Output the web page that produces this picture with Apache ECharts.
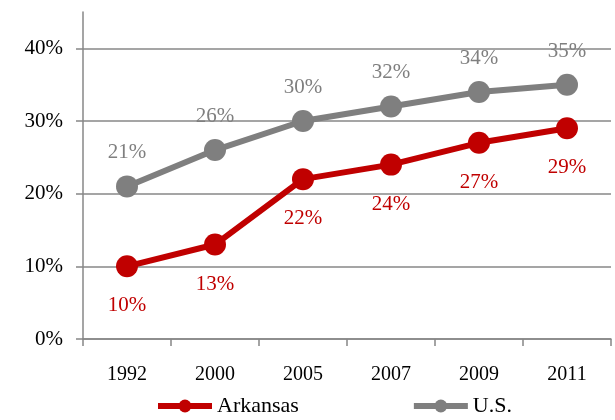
<!DOCTYPE html>
<html>
<head>
<meta charset="utf-8">
<script src="https://cdn.jsdelivr.net/npm/echarts@6/dist/echarts.min.js"></script>
<style>
  html, body { margin: 0; padding: 0; background: #fff; }
  #chart { width: 615px; height: 420px; }
</style>
</head>
<body>
<div id="chart"></div>
<script>
// data
const years = ['1992', '2000', '2005', '2007', '2009', '2011'];
const arkansas = [10, 13, 22, 24, 27, 29];
const us = [21, 26, 30, 32, 34, 35];

const FONT = '"Liberation Serif", "DejaVu Serif", serif';
const RED = '#C00000';
const GREY = '#7F7F7F';
const AXIS = '#878787';

const chart = echarts.init(document.getElementById('chart'));

const option = {
  backgroundColor: '#fff',
  textStyle: { fontFamily: FONT },
  grid: { left: 83, right: 4, top: 12, bottom: 81 },
  legend: {
    left: 150,
    bottom: -2,
    itemWidth: 54,
    itemHeight: 16,
    itemGap: 112,
    lineStyle: { width: 6 },
    textStyle: { fontFamily: FONT, fontSize: 22, color: '#000' },
    data: ['Arkansas', 'U.S.']
  },
  xAxis: {
    type: 'category',
    data: years,
    boundaryGap: true,
    axisLine: { lineStyle: { color: AXIS, width: 1.5 } },
    axisTick: { show: true, length: 7, lineStyle: { color: AXIS, width: 1.5 } },
    axisLabel: { color: '#000', fontSize: 20, fontFamily: FONT, margin: 26 }
  },
  yAxis: {
    type: 'value',
    min: 0,
    max: 45,
    interval: 10,
    axisLine: { show: true, lineStyle: { color: AXIS, width: 1.5 } },
    axisTick: { show: true, length: 7, lineStyle: { color: AXIS, width: 1.5 } },
    splitLine: { show: true, showMaxLine: false, lineStyle: { color: AXIS, width: 1.5 } },
    axisLabel: {
      color: '#000',
      fontSize: 21,
      fontFamily: FONT,
      margin: 20,
      showMaxLabel: false,
      formatter: (v) => (v % 10 === 0 ? v + '%' : '')
    }
  },
  series: [
    {
      name: 'Arkansas',
      type: 'line',
      data: arkansas,
      symbol: 'circle',
      symbolSize: 22,
      lineStyle: { color: RED, width: 6 },
      itemStyle: { color: RED },
      label: {
        show: true,
        position: 'bottom',
        distance: 18,
        color: RED,
        fontSize: 21,
        fontFamily: FONT,
        formatter: (p) => p.value + '%'
      },
      z: 3
    },
    {
      name: 'U.S.',
      type: 'line',
      data: us,
      symbol: 'circle',
      symbolSize: 22,
      lineStyle: { color: GREY, width: 6 },
      itemStyle: { color: GREY },
      label: {
        show: true,
        position: 'top',
        distance: 12,
        color: GREY,
        fontSize: 21,
        fontFamily: FONT,
        formatter: (p) => p.value + '%'
      },
      z: 2
    }
  ]
};

chart.setOption(option);
</script>
</body>
</html>
